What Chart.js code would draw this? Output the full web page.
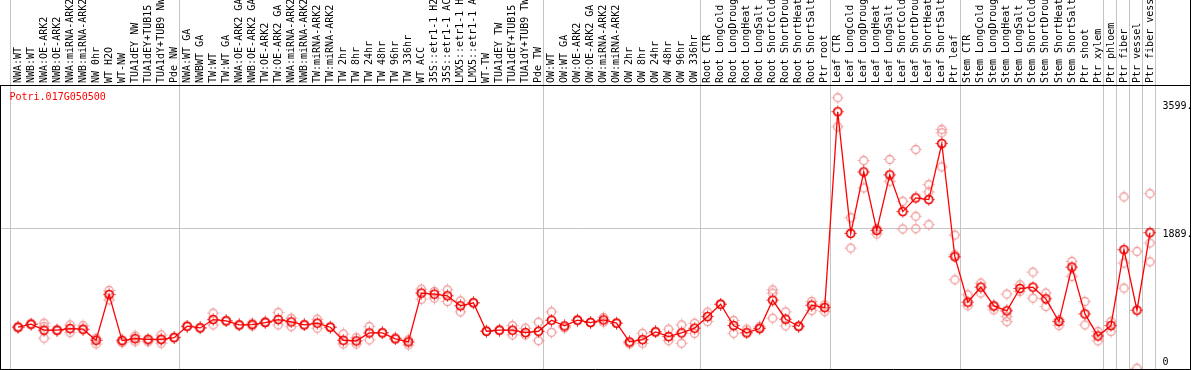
<!DOCTYPE html>
<html>
<head>
<meta charset="utf-8">
<script src="https://cdn.jsdelivr.net/npm/chart.js@4/dist/chart.umd.min.js"></script>
<style>
  html, body { margin: 0; padding: 0; background: #fff; }
</style>
</head>
<body>
<canvas id="chart" width="1194" height="370"></canvas>
<script>
// ===== DATA =====
const geneId = "Potri.017G050500";

const categories = [
  "NWA:WT", "NWB:WT", "NWA:OE-ARK2", "NWB:OE-ARK2", "NWA:miRNA-ARK2", "NWB:miRNA-ARK2", "NW 0hr", "WT H2O", "WT-NW",
  "TUA1dEY NW", "TUA1dEY+TUB15", "TUA1dY+TUB9 NW", "Pde NW",
  "NWA:WT GA", "NWBWT GA", "TW:WT", "TW:WT GA", "NWA:OE-ARK2 GA", "NWB:OE-ARK2 GA", "TW:OE-ARK2", "TW:OE-ARK2 GA",
  "NWA:miRNA-ARK2", "NWB:miRNA-ARK2", "TW:miRNA-ARK2", "TW:miRNA-ARK2", "TW 2hr", "TW 8hr", "TW 24hr", "TW 48hr",
  "TW 96hr", "TW 336hr", "WT ACC", "35S::etr1-1 H2O", "35S::etr1-1 ACC", "LMX5::etr1-1 H2O", "LMX5::etr1-1 ACC",
  "WT-TW", "TUA1dEY TW", "TUA1dEY+TUB15", "TUA1dY+TUB9 TW", "Pde TW",
  "OW:WT", "OW:WT GA", "OW:OE-ARK2", "OW:OE-ARK2 GA", "OW:miRNA-ARK2", "OW:miRNA-ARK2", "OW 2hr", "OW 8hr",
  "OW 24hr", "OW 48hr", "OW 96hr", "OW 336hr",
  "Root CTR", "Root LongCold", "Root LongDrought", "Root LongHeat", "Root LongSalt", "Root ShortCold",
  "Root ShortDrought", "Root ShortHeat", "Root ShortSalt", "Ptr root",
  "Leaf CTR", "Leaf LongCold", "Leaf LongDrought", "Leaf LongHeat", "Leaf LongSalt", "Leaf ShortCold",
  "Leaf ShortDrought", "Leaf ShortHeat", "Leaf ShortSalt", "Ptr leaf",
  "Stem CTR", "Stem LongCold", "Stem LongDrought", "Stem LongHeat", "Stem LongSalt", "Stem ShortCold",
  "Stem ShortDrought", "Stem ShortHeat", "Stem ShortSalt", "Ptr shoot", "Ptr xylem",
  "Ptr phloem", "Ptr fiber", "Ptr vessel", "Ptr fiber vessel"
];

// mean expression per sample (red line)
const meanValues = [
  490, 533, 448, 448, 471, 462, 306, 951, 301, 329, 320, 320, 343,
  504, 480, 598, 579, 523, 527, 556, 598, 565, 523, 547, 490, 306, 297, 410, 410, 325, 283,
  971, 956, 933, 791, 834, 433, 448, 448, 414, 433,
  589, 509, 589, 556, 593, 547, 283, 315, 424, 358, 410, 476,
  640, 815, 513, 410, 471, 872, 603, 504, 801, 767,
  3528, 1813, 2680, 1855, 2638, 2120, 2313, 2289, 3080, 1484,
  843, 1055, 791, 721, 1036, 1055, 890, 570, 1338, 678, 367,
  513, 1583, 730, 1823
];

// single replicates (pale circles)
const replicateValues = [
  [500, 480], [540, 525], [547, 334, 499], [455, 440], [523, 414], [513, 452], [334, 254], [1008, 876],
  [311, 273], [367, 287], [301, 287], [382, 311, 264], [344, 350],
  [504, 500], [480, 485], [688, 523], [579, 585], [523, 515], [546, 509], [570, 560], [697, 523],
  [617, 499], [523, 530], [603, 476], [490, 495], [396, 254], [344, 254], [499, 311], [410, 415],
  [344, 330], [311, 240], [1027, 885], [994, 900], [1017, 853], [862, 707], [834, 840], [433, 440],
  [447, 452], [513, 382], [476, 382], [561, 301],
  [707, 419], [480, 490], [589, 595], [556, 560], [626, 561], [546, 550], [254, 270], [405, 264],
  [424, 430], [462, 301], [523, 264], [546, 405],
  [702, 570], [815, 810], [584, 405], [462, 420], [499, 480], [1017, 970, 617], [707, 509],
  [504, 495], [853, 725], [805, 711],
  [3726, 3316], [2035, 1606], [2840, 2454], [1880, 1804], [2855, 2548], [2266, 1875],
  [2996, 2054, 1880], [2501, 2398, 1936], [3279, 3231, 2751], [1790, 1512, 1159],
  [947, 792], [1112, 971], [735, 782], [957, 641, 570], [1088, 994], [1267, 900], [971, 782],
  [594, 514], [1418, 1206], [853, 523], [429, 297],
  [570, 429], [2327, 1395, 1041], [1559, -89], [2374, 1677, 1413]
];

const yTickValues = [0, 1889, 3599];
const groupLineValue = 1889;
// index of first sample in each block (vertical separators)
const groupStarts = [0, 13, 41, 53, 63, 73, 84, 85, 86, 87, 88];

// ===== MARKERS =====
function makeMarker(color, width) {
  const c = document.createElement("canvas");
  c.width = 13;
  c.height = 13;
  const g = c.getContext("2d");
  g.strokeStyle = color;
  g.lineWidth = width;
  g.beginPath();
  g.arc(6.5, 6.5, 4, 0, Math.PI * 2);
  g.stroke();
  // small stubs on the four sides
  g.lineWidth = 1;
  g.beginPath();
  g.moveTo(6.5, 0.5); g.lineTo(6.5, 1.8);
  g.moveTo(6.5, 11.2); g.lineTo(6.5, 12.5);
  g.moveTo(0.5, 6.5); g.lineTo(1.8, 6.5);
  g.moveTo(11.2, 6.5); g.lineTo(12.5, 6.5);
  g.stroke();
  return c;
}

const mainMarker = makeMarker("#ee0000", 1.7);
const repMarker = makeMarker("#f09a9a", 1.3);

const monoFont = { family: "'DejaVu Sans Mono', monospace", size: 10 };

// ===== DATASETS =====
const datasets = [{
  label: geneId,
  data: meanValues,
  borderColor: "#ff0000",
  borderWidth: 1.3,
  pointStyle: mainMarker,
  pointRadius: 4,
  tension: 0,
  fill: false
}];

for (let k = 0; k < 3; k++) {
  datasets.push({
    label: "rep" + (k + 1),
    data: replicateValues.map(r => (r[k] === undefined ? null : r[k])),
    showLine: false,
    pointStyle: repMarker,
    pointRadius: 4
  });
}

// ===== FRAME / SEPARATORS =====
const framePlugin = {
  id: "frame",
  beforeDatasetsDraw(chart) {
    const ctx = chart.ctx;
    const area = chart.chartArea;
    const xs = chart.scales.x;
    const ys = chart.scales.y;
    ctx.save();
    ctx.strokeStyle = "#c4c4c4";
    ctx.lineWidth = 1;
    groupStarts.forEach(i => {
      const px = Math.floor(xs.getPixelForValue(i - 0.5) - 1) + 0.5;
      ctx.beginPath();
      ctx.moveTo(px, 0);
      ctx.lineTo(px, area.bottom);
      ctx.stroke();
    });
    const py = Math.round(ys.getPixelForValue(groupLineValue)) + 0.5;
    ctx.beginPath();
    ctx.moveTo(0, py);
    ctx.lineTo(area.right + 4, py);
    ctx.stroke();
    ctx.restore();
  },
  afterDraw(chart) {
    const ctx = chart.ctx;
    const area = chart.chartArea;
    ctx.save();
    ctx.strokeStyle = "#000";
    ctx.lineWidth = 1;
    ctx.beginPath();
    ctx.moveTo(0, area.top + 0.5);
    ctx.lineTo(1191, area.top + 0.5);
    ctx.moveTo(0, area.bottom + 0.5);
    ctx.lineTo(1191, area.bottom + 0.5);
    ctx.moveTo(0.5, area.top);
    ctx.lineTo(0.5, 370);
    ctx.moveTo(1190.5, 0);
    ctx.lineTo(1190.5, 370);
    ctx.stroke();

    ctx.fillStyle = "#ff0000";
    ctx.font = "10px 'DejaVu Sans Mono', monospace";
    ctx.textBaseline = "middle";
    ctx.fillText(geneId, area.left - 2, area.top + 12);
    ctx.restore();
  }
};

// ===== CHART =====
new Chart(document.getElementById("chart").getContext("2d"), {
  type: "line",
  data: { labels: categories, datasets: datasets },
  options: {
    responsive: false,
    animation: false,
    events: [],
    layout: { autoPadding: false, padding: { left: 11.5, right: 0, top: 0, bottom: 1 } },
    plugins: { legend: { display: false }, tooltip: { enabled: false } },
    scales: {
      x: {
        type: "category",
        position: "top",
        offset: true,
        grid: { display: false, drawTicks: false },
        border: { display: false },
        ticks: {
          autoSkip: false,
          minRotation: 90,
          maxRotation: 90,
          padding: 2,
          labelOffset: 12,
          color: "#000",
          font: monoFont
        },
        afterFit(scale) {
          scale.height = 85;
          scale.paddingLeft = 0;
          scale.paddingRight = 0;
        }
      },
      y: {
        position: "right",
        min: -99,
        max: 3905,
        grid: { display: false, drawTicks: false },
        border: { display: false },
        afterBuildTicks(scale) { scale.ticks = yTickValues.map(v => ({ value: v })); },
        ticks: {
          padding: 6,
          color: "#000",
          font: monoFont,
          callback: v => (v === 0 ? "0" : (v === groupLineValue ? ["", v + "."] : v + "."))
        },
        afterFit(scale) {
          scale.width = 37.5;
          scale.paddingTop = 0;
          scale.paddingBottom = 0;
        }
      }
    }
  },
  plugins: [framePlugin]
});
</script>
</body>
</html>
